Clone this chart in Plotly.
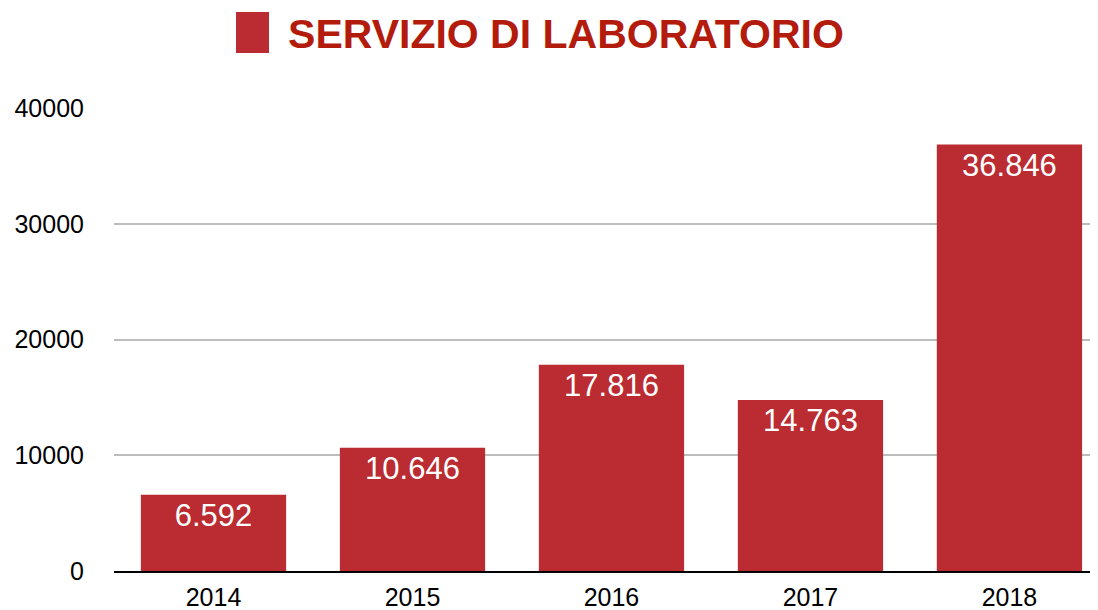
import plotly.graph_objects as go

anni = ['2014', '2015', '2016', '2017', '2018']
prestazioni = [6592, 10646, 17816, 14763, 36846]
serie = 'SERVIZIO DI LABORATORIO'

rosso = '#BA2C31'

# la pagina ha un margine di 8px: la figura parte da (8, 8)
W, H = 1090, 602

fig = go.Figure()
fig.add_trace(go.Bar(
    x=anni, y=prestazioni, name=serie,
    marker=dict(color=rosso, line=dict(width=0)),
    texttemplate='%{y:,}', textposition='inside', insidetextanchor='end',
    textfont=dict(color='white', size=31, family='Liberation Sans, Arial, sans-serif'),
    textangle=0,
))

fig.update_layout(
    width=W, height=H,
    margin=dict(l=106, r=0, t=100, b=39),
    paper_bgcolor='white', plot_bgcolor='white',
    separators=',.',
    bargap=0.27,
    showlegend=False,
    font=dict(family='Liberation Sans, Arial, sans-serif', size=25, color='black'),
    title=dict(text='<b>' + serie + '</b>', x=(566 - 8) / W, xanchor='center',
               y=1 - 26 / H, yanchor='middle', yref='container',
               font=dict(size=41, color='#B31B0C', family='Liberation Sans, Arial, sans-serif')),
    # quadratino della legenda
    shapes=[dict(type='rect', xref='paper', yref='paper',
                 x0=(236 - 114) / 984, x1=(269 - 114) / 984,
                 y0=(571 - 53) / 463, y1=(571 - 12) / 463,
                 fillcolor=rosso, line=dict(width=0))],
)

fig.update_xaxes(range=[-0.5, 4.445], showgrid=False, showline=True,
                 linecolor='black', linewidth=2, ticks='', ticklabelstandoff=3,
                 automargin=False)
fig.update_yaxes(range=[0, 40000], dtick=10000, tickformat='d',
                 showgrid=True, gridcolor='#BDBDBD', gridwidth=2,
                 zeroline=False, showline=False, ticklabelstandoff=29,
                 automargin=False)

fig.write_html("out.html")
